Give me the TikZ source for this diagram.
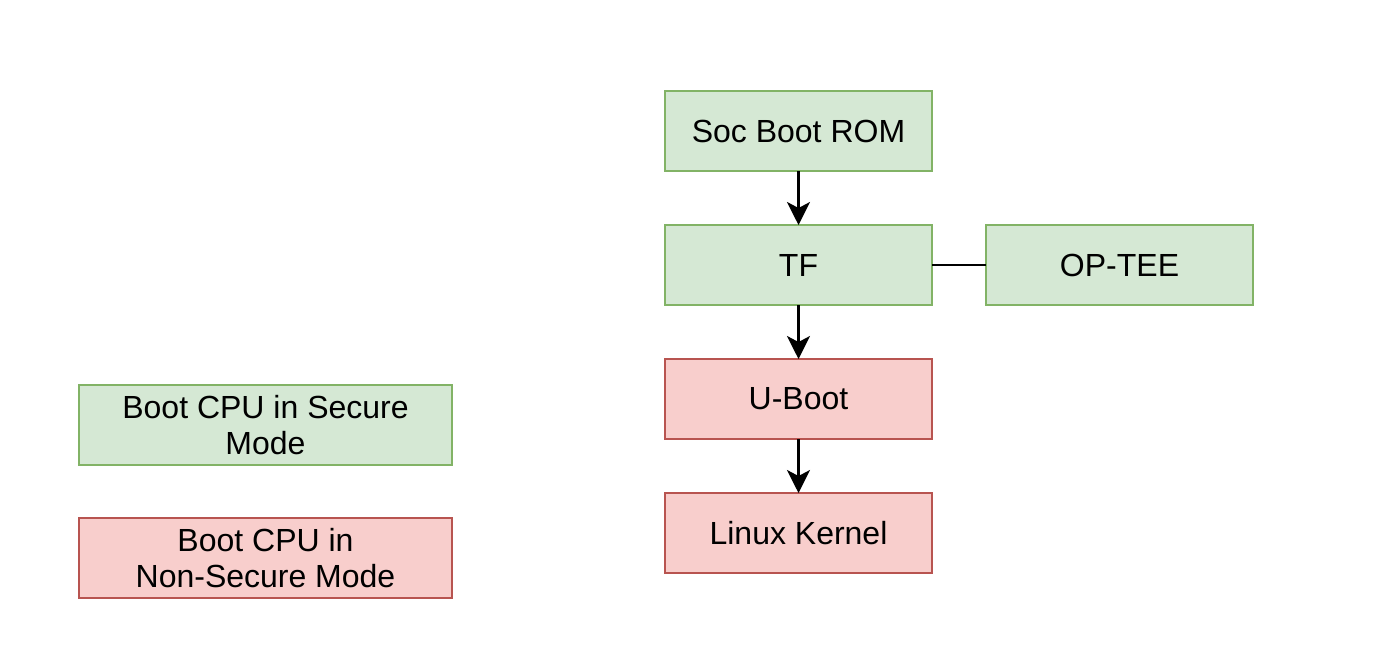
\documentclass[tikz,border=0pt]{standalone}
\usepackage{fontspec}
\setmainfont{Liberation Sans}
\usetikzlibrary{positioning,arrows.meta}
\definecolor{secfill}{HTML}{D5E8D4}
\definecolor{secdraw}{HTML}{82B366}
\definecolor{nsfill}{HTML}{F8CECC}
\definecolor{nsdraw}{HTML}{B85450}
\begin{document}
\begin{tikzpicture}[x=0.5pt, y=-0.5pt,
  node distance = 27pt,
  every node/.style = {shape=rectangle, line width=1pt,
    align=center, font=\fontsize{16}{18}\selectfont,
    minimum width=133.5pt, minimum height=40pt, inner sep=0pt, outer sep=0pt},
  secure/.style = {draw=secdraw, fill=secfill},
  nonsec/.style = {draw=nsdraw, fill=nsfill},
  legend/.style = {minimum width=186.5pt},
  flow/.style   = {line width=1.2pt, -{Stealth[length=11.5pt, width=11.5pt, inset=3pt]}}]
\useasboundingbox (0,0) rectangle (1384,660);
\node[secure] (rom) at (798.5,131) {Soc Boot ROM};
\node[secure, below=of rom] (tf) {TF};
\node[secure, right=of tf] (optee) {OP-TEE};
\node[nonsec, below=of tf] (uboot) {U-Boot};
\node[nonsec, below=of uboot] (linux) {Linux Kernel};
% legend
\node[secure, legend] (legsec) at (265.5,425) {Boot CPU in Secure\\Mode};
\node[nonsec, legend] (legns) at (265.5,558) {Boot CPU in\\Non-Secure Mode};
\draw[flow] (rom) -- (tf);
\draw[flow] (tf) -- (uboot);
\draw[flow] (uboot) -- (linux);
\draw[line width=1.2pt] (tf) -- (optee);
\end{tikzpicture}
\end{document}
